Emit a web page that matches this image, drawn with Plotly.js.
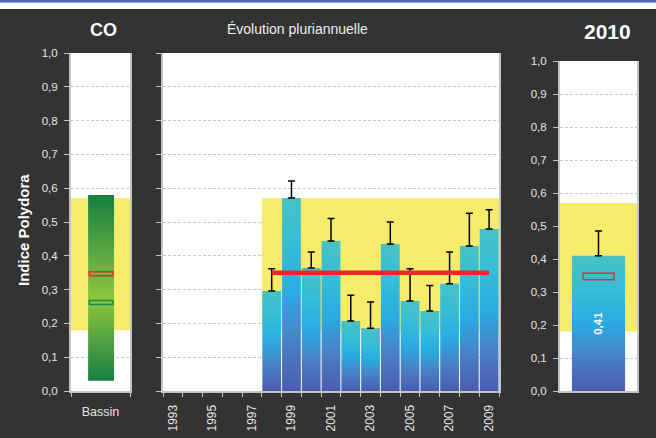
<!DOCTYPE html>
<html><head><meta charset="utf-8">
<script src="https://cdn.plot.ly/plotly-3.0.1.min.js"></script>
<style>html,body{margin:0;padding:0;background:#323332;}#chart{width:656px;height:438px;}</style>
</head><body><div id="chart"></div>
<script>
// ---- data ----
const years = [1993,1994,1995,1996,1997,1998,1999,2000,2001,2002,2003,2004,2005,2006,2007,2008,2009];
const tickYears = [1993,1995,1997,1999,2001,2003,2005,2007,2009];
const tickYearLabels = ['1993','1995','1997','1999','2001','2003','2005','2007','2009'];
const barYears = [1998,1999,2000,2001,2002,2003,2004,2005,2006,2007,2008,2009];
const barValues = [0.296,0.571,0.364,0.444,0.207,0.186,0.435,0.266,0.237,0.317,0.429,0.479];
const barErrors = [0.066,0.050,0.047,0.066,0.076,0.077,0.065,0.096,0.075,0.094,0.097,0.057];
const meanValue = 0.35;
const refLow = 0.18;
const refHigh = 0.57;
const bassinLabels = ['Bassin'];
const bassinMin = 0.03;
const bassinMax = 0.58;
const bassinRedMark = 0.347;
const bassinGreenMark = 0.262;
const currentTitle = '2010';
const currentValue = 0.41;
const currentError = 0.075;
const currentRedMark = 0.347;
const yTicks = [0,0.1,0.2,0.3,0.4,0.5,0.6,0.7,0.8,0.9,1.0];

// ---- styles ----
const FONT = 'Liberation Sans, Arial, sans-serif';
const TICKC = '#e6e6e6';
const LINEC = '#c4c4c4';
const YELLOW = '#f5ec6b';
const blueScale = [[0,'#4a5caf'],[0.25,'#4a80c5'],[0.5,'#2aabe2'],[0.75,'#36bdd7'],[1,'#48c1c4']];
const greenScale = [[0,'#168040'],[0.2,'#4f9f42'],[0.44,'#8dc63f'],[0.72,'#55a342'],[1,'#168040']];

const traces = [];
function rectTrace(xa, ya, x0, x1, y0, y1, opts) {
  const t = {
    x: [x0, x0, x1, x1, x0], y: [y0, y1, y1, y0, y0],
    xaxis: xa, yaxis: ya, mode: 'lines', hoverinfo: 'skip', showlegend: false
  };
  return Object.assign(t, opts);
}
const NOLINE = {width:0,color:'rgba(0,0,0,0)'};

// yellow reference bands
traces.push(rectTrace('x','y',-0.5,0.5,refLow,refHigh,{fill:'toself',fillcolor:YELLOW,line:NOLINE}));
traces.push(rectTrace('x2','y2',barYears[0]-0.5,years[years.length-1]+0.5,refLow,refHigh,{fill:'toself',fillcolor:YELLOW,line:NOLINE}));
traces.push(rectTrace('x3','y3',-0.5,0.5,refLow,refHigh,{fill:'toself',fillcolor:YELLOW,line:NOLINE}));

// left: bassin range bar
traces.push(rectTrace('x','y',-0.21,0.23,bassinMin,bassinMax,{fill:'toself',fillgradient:{type:'vertical',colorscale:greenScale},line:NOLINE}));
traces.push(rectTrace('x','y',-0.19,0.21,bassinRedMark-0.006,bassinRedMark+0.006,{line:{width:1.5,color:'#ee2a2a'}}));
traces.push(rectTrace('x','y',-0.19,0.21,bassinGreenMark-0.006,bassinGreenMark+0.006,{line:{width:1.5,color:'#1a8a45'}}));

// middle: yearly bars
const W = 0.95;
barYears.forEach((yr, i) => {
  traces.push(rectTrace('x2','y2',yr-W/2,yr+W/2,0,barValues[i],{fill:'toself',fillgradient:{type:'vertical',colorscale:blueScale},line:NOLINE}));
});
traces.push({
  x: barYears, y: barValues, xaxis:'x2', yaxis:'y2', type:'scatter', mode:'markers',
  marker:{size:1,opacity:0}, hoverinfo:'skip', showlegend:false,
  error_y:{type:'data',symmetric:false,array:barErrors,arrayminus:barErrors.map(()=>0),color:'#000000',thickness:1.5,width:3.5}
});
traces.push({
  x:[barYears[0],barYears[barYears.length-1]], y:[meanValue,meanValue], xaxis:'x2', yaxis:'y2',
  mode:'lines', line:{color:'#f42424',width:4.5}, hoverinfo:'skip', showlegend:false
});

// right: current year
traces.push(rectTrace('x3','y3',-0.345,0.345,0,currentValue,{fill:'toself',fillgradient:{type:'vertical',colorscale:blueScale},line:NOLINE}));
traces.push(rectTrace('x3','y3',-0.2,0.2,currentRedMark-0.01,currentRedMark+0.01,{line:{width:1.5,color:'#e03030'}}));
traces.push({
  x:[0], y:[currentValue], xaxis:'x3', yaxis:'y3', type:'scatter', mode:'markers',
  marker:{size:1,opacity:0}, hoverinfo:'skip', showlegend:false,
  error_y:{type:'data',symmetric:false,array:[currentError],arrayminus:[0],color:'#000000',thickness:1.5,width:3.5}
});

const H = 438, Wd = 656;
const yAxisBase = {
  range:[0,1], tickvals:yTicks, tickformat:'.1f', showgrid:true, gridcolor:'#c8c8c8', griddash:'3px,2px', gridwidth:1,
  zeroline:false, showline:true, mirror:true, linecolor:LINEC, linewidth:2, ticklabelstandoff:4,
  ticks:'outside', ticklen:5, tickcolor:LINEC, tickfont:{family:FONT,size:11.5,color:TICKC}, fixedrange:true
};
const layout = {
  width:Wd, height:H, margin:{l:0,r:0,t:0,b:0},
  paper_bgcolor:'#323332', plot_bgcolor:'#ffffff', separators:', ',
  font:{family:FONT,color:TICKC},
  showlegend:false,
  xaxis:{domain:[71/Wd,130/Wd], anchor:'y', range:[-0.5,0.5], tickvals:[0], ticktext:bassinLabels,
    ticks:'', showgrid:false, zeroline:false, showline:true, linecolor:LINEC, linewidth:2, ticklabelstandoff:8,
    minor:{tick0:-0.5,dtick:1,ticks:'outside',ticklen:4,tickcolor:LINEC,showgrid:false},
    tickfont:{family:FONT,size:12.5,color:TICKC}, fixedrange:true},
  yaxis:Object.assign({}, yAxisBase, {domain:[(H-391)/H,(H-53)/H], anchor:'x'}),
  xaxis2:{domain:[163/Wd,499/Wd], anchor:'y2', range:[years[0]-0.5,years[years.length-1]+0.5],
    tickvals:tickYears, ticktext:tickYearLabels, tickangle:-90, ticks:'', showgrid:false, zeroline:false,
    showline:true, linecolor:LINEC, linewidth:2, ticklabelstandoff:7,
    minor:{tick0:years[0]-0.5,dtick:1,ticks:'outside',ticklen:4,tickcolor:LINEC,showgrid:false},
    tickfont:{family:FONT,size:12,color:TICKC}, fixedrange:true},
  yaxis2:Object.assign({}, yAxisBase, {domain:[(H-391)/H,(H-53)/H], anchor:'x2', showticklabels:false}),
  xaxis3:{domain:[560/Wd,637/Wd], anchor:'y3', range:[-0.5,0.5], showticklabels:false, ticks:'',
    showgrid:false, zeroline:false, showline:true, linecolor:LINEC, linewidth:2, fixedrange:true},
  yaxis3:Object.assign({}, yAxisBase, {domain:[(H-391)/H,(H-61)/H], anchor:'x3'}),
  shapes:[
    {type:'rect', xref:'paper', yref:'paper', x0:0, x1:1, y0:(H-2.5)/H, y1:1, fillcolor:'#4a67b8', line:{width:0}, layer:'above'},
    {type:'rect', xref:'paper', yref:'paper', x0:0, x1:1, y0:(H-9)/H, y1:(H-2.5)/H, fillcolor:'#ffffff', line:{width:0}, layer:'above'}
  ],
  annotations:[
    {text:'<b>CO</b>', xref:'paper', yref:'paper', x:103/Wd, y:(H-30)/H, showarrow:false, xanchor:'center', yanchor:'middle', font:{family:FONT,size:18,color:'#ffffff'}},
    {text:'Évolution pluriannuelle', xref:'paper', yref:'paper', x:297/Wd, y:(H-29)/H, showarrow:false, xanchor:'center', yanchor:'middle', font:{family:FONT,size:14,color:'#eeeeee'}},
    {text:'<b>'+currentTitle+'</b>', xref:'paper', yref:'paper', x:607/Wd, y:(H-31)/H, showarrow:false, xanchor:'center', yanchor:'middle', font:{family:FONT,size:21,color:'#ffffff'}},
    {text:'<b>Indice Polydora</b>', xref:'paper', yref:'paper', x:23/Wd, y:(H-230)/H, textangle:-90, showarrow:false, xanchor:'center', yanchor:'middle', font:{family:FONT,size:15,color:'#ffffff'}},
    {text:'<b>'+currentValue.toFixed(2).replace('.',',')+'</b>', xref:'x3', yref:'y3', x:0, y:currentValue/2, textangle:-90, showarrow:false, xanchor:'center', yanchor:'middle', font:{family:FONT,size:11.5,color:'#ffffff'}}
  ]
};
Plotly.newPlot('chart', traces, layout, {staticPlot:true, displayModeBar:false});
</script>
</body></html>
